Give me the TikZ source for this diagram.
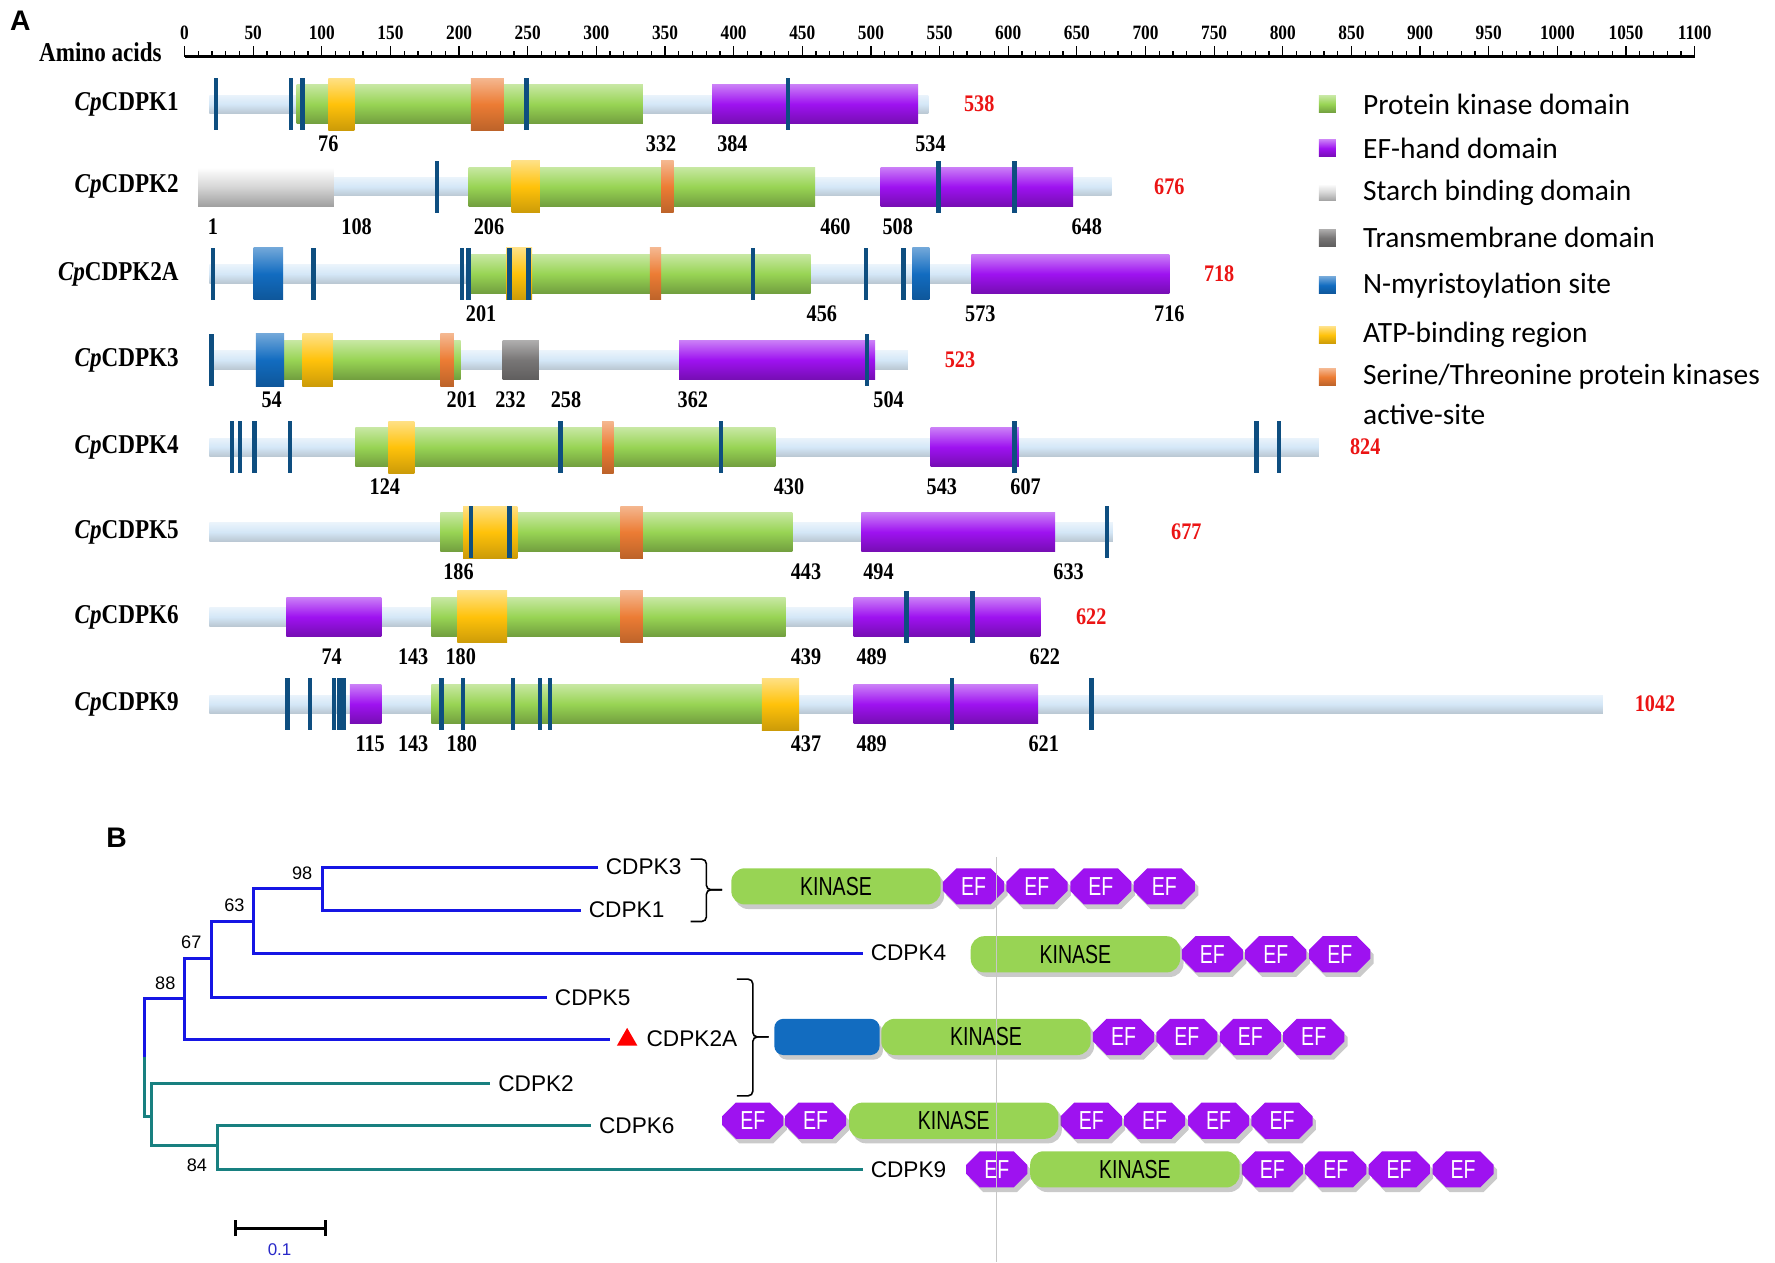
\documentclass[tikz,border=0pt]{standalone}
\usepackage{fontspec}
\setmainfont{Liberation Serif}
\setsansfont{Liberation Sans}
\newfontfamily\legfont{Carlito}
\newfontfamily\condserif[FakeStretch=0.85]{Liberation Serif}
\newfontfamily\condsans[FakeStretch=0.75]{Liberation Sans}
\usepackage{tikz}
\usetikzlibrary{shapes.geometric}
\usetikzlibrary{shapes.misc}
\usetikzlibrary{shadows}
\usetikzlibrary{arrows.meta}

\definecolor{bbblue}{RGB}{212,231,247}
\definecolor{kgreen}{RGB}{152,212,84}
\definecolor{efpurple}{RGB}{158,18,240}
\definecolor{sgrey}{RGB}{214,214,214}
\definecolor{tmgrey}{RGB}{120,118,118}
\definecolor{myrblue}{RGB}{14,78,128}
\definecolor{nblue}{RGB}{18,108,192}
\definecolor{atpyellow}{RGB}{255,194,10}
\definecolor{storange}{RGB}{236,124,52}
\definecolor{treeblue}{RGB}{22,22,228}
\definecolor{treeteal}{RGB}{24,128,128}
\definecolor{lenred}{RGB}{235,20,20}
\definecolor{scaleblue}{RGB}{40,40,200}

\begin{document}
\begin{tikzpicture}[x=1pt,y=-1pt,
 bbone/.style={top color=bbblue!50!white,bottom color=bbblue!70!gray,middle color=bbblue},
 kin/.style={top color=kgreen!55!white,bottom color=kgreen!75!black,middle color=kgreen},
 efd/.style={top color=efpurple!55!white,bottom color=efpurple!75!black,middle color=efpurple},
 sbd/.style={top color=white,bottom color=sgrey!75!black,middle color=sgrey},
 tmd/.style={top color=tmgrey!60!white,bottom color=tmgrey!80!black,middle color=tmgrey},
 nbox/.style={top color=nblue!60!white,bottom color=nblue!80!black,middle color=nblue},
 atp/.style={top color=atpyellow!50!white,bottom color=atpyellow!80!black,middle color=atpyellow},
 sto/.style={top color=storange!55!white,bottom color=storange!80!black,middle color=storange},
 myr/.style={fill=myrblue},
 panel/.style={font=\sffamily\bfseries\fontsize{25}{25}\selectfont,inner sep=0pt},
 ticklab/.style={font=\condserif\bfseries\fontsize{18}{18}\selectfont,inner sep=0pt},
 rowlab/.style={anchor=east,font=\condserif\bfseries\fontsize{24}{24}\selectfont,inner sep=0pt},
 poslab/.style={font=\condserif\bfseries\fontsize{21}{21}\selectfont,inner sep=0pt},
 lenlab/.style={font=\condserif\bfseries\fontsize{21}{21}\selectfont,text=lenred,inner sep=0pt},
 legtxt/.style={anchor=west,font=\legfont\fontsize{26}{26}\selectfont,inner sep=0pt},
 leaf/.style={anchor=west,inner xsep=7pt,inner ysep=0pt,font=\sffamily\fontsize{20}{20}\selectfont},
 boot/.style={font=\sffamily\fontsize{16}{16}\selectfont,inner sep=0pt},
 tb/.style={draw=treeblue,line width=2.6pt},
 tt/.style={draw=treeteal,line width=2.6pt},
 brc/.style={draw=black,line width=1.4pt,rounded corners=4pt},
 dshadow/.style={drop shadow={shadow xshift=3pt,shadow yshift=-4pt,opacity=.35,fill=black!60}},
 kinbox/.style={rectangle,rounded corners=12pt,fill=kgreen,minimum width=185pt,minimum height=32pt,inner sep=0pt,
   font=\condsans\fontsize{23}{23}\selectfont,dshadow},
 efbox/.style={chamfered rectangle,chamfered rectangle sep=6pt,fill=efpurple,text=white,minimum width=54pt,
   minimum height=32pt,inner sep=0pt,font=\condsans\fontsize{23}{23}\selectfont,dshadow},
 nbbox/.style={rectangle,rounded corners=8pt,fill=nblue,minimum width=93pt,minimum height=32pt,dshadow},
 tri/.style={regular polygon,regular polygon sides=3,fill=red,minimum size=21pt,inner sep=0pt}]
\useasboundingbox (0,0) rectangle (1568,1115);

% ---------- A ----------
\node[panel] (pa) at (18,18) {A};
\node[rowlab] (aminoacids) at (143,46) {Amino acids};
\draw[line width=2pt] (163,50) -- (1497,50);
\foreach \i in {0,...,110}
  \draw[line width=1.1pt] ({163+\i*12.127},50) -- ++(0,-5);
\foreach \i in {0,...,22}{
  \pgfmathtruncatemacro\v{\i*50}
  \draw[line width=1.1pt] ({163+\i*60.636},50) -- ++(0,-9);
  \node[ticklab] (t\v) at ({163+\i*60.636},29) {\v};
}

\foreach \y/\n in {92/1,165/2,242/2A,318/3,395/4,470/5,545/6,622/9}
  \node[rowlab] (row\n) at (158,\y) {\textit{Cp}CDPK\n};
\foreach \y/\l/\x in {92/538/865,165/676/1033,242/718/1077,318/523/848,395/824/1206,470/677/1048,545/622/964,622/1042/1462}
  \node[lenlab] (len\l) at (\x,\y) {\l};

% backbones
\foreach \y/\a/\b in {92/185/820,165/295/982,242/185/1033,318/185/802,395/185/1165,470/185/983,545/185/919,622/185/1416}
  \shade[bbone] (\a,\y-8) rectangle (\b,\y+8);
% domains
\foreach \y/\a/\b in {92/262/568,165/414/720,242/416/716,318/251/407,395/314/685,470/389/700,545/381/694,622/381/680}
  \shade[kin] (\a,\y-17) rectangle (\b,\y+17);
\foreach \y/\a/\b in {92/629/811,165/778/948,242/858/1033,318/600/773,395/822/900,470/761/932,545/253/337,545/754/919,622/309/337,622/754/917}
  \shade[efd] (\a,\y-17) rectangle (\b,\y+17);
\shade[sbd] (175,148) rectangle (295,182);
\shade[tmd] (444,301) rectangle (476,335);
% sites
\foreach \y/\a/\b in {242/224/250,242/806/821,318/226/251}
  \shade[nbox] (\a,\y-23) rectangle (\b,\y+23);
\foreach \y/\a/\b in {92/290/313,165/452/477,242/447/470,318/267/294,395/343/366,470/409/457,545/404/448,622/673/706}
  \shade[atp] (\a,\y-23) rectangle (\b,\y+23);
\foreach \y/\a/\b in {92/416/445,165/584/595,242/574/584,318/389/401,395/532/542,470/548/568,545/548/568}
  \shade[sto] (\a,\y-23) rectangle (\b,\y+23);
\foreach \y/\xs in {92/{191,257,267,465,696},165/{386,829,896},242/{188,277,408,414,450,467,665,765,798},
  318/{187,766},395/{205,212,225,256,495,637,896,1110,1130},470/{416,450,978},545/{801,859},
  622/{254,274,295,300,304,390,409,453,477,486,841,964}}
  \foreach \x in \xs \fill[myr] (\x-2,\y-23) rectangle (\x+2,\y+23);

% positions
\foreach \y/\x/\l in {92/290/76,92/584/332,92/647/384,92/822/534,
  165/188/1,165/315/108,165/432/206,165/738/460,165/793/508,165/960/648,
  242/425/201,242/726/456,242/866/573,242/1033/716,
  318/240/54,318/408/201,318/451/232,318/500/258,318/612/362,318/785/504,
  395/340/124,395/697/430,395/832/543,395/906/607,
  470/405/186,470/712/443,470/776/494,470/944/633,
  545/293/74,545/365/143,545/407/180,545/712/439,545/770/489,545/923/622,
  622/327/115,622/365/143,622/408/180,622/712/437,622/770/489,622/922/621}
  \node[poslab] (p\y-\x) at (\x,\y+35) {\l};

% legend
\foreach \i/\y/\s/\t in {1/92/kin/Protein kinase domain,2/131/efd/EF-hand domain,3/170/sbd/Starch binding domain,
  4/210/tmd/Transmembrane domain,5/252/nbox/N-myristoylation site,6/296/atp/ATP-binding region,
  7/333/sto/{Serine/Threonine protein kinases}}{
  \shade[\s] (1165,\y-7.5) rectangle (1180,\y+7.5);
  \node[legtxt] (leg\i) at (1204,\y) {\t};
}
\node[legtxt] (leg7b) at (1204,366) {active-site};

% ---------- B ----------
\node[panel] (pb) at (103,740) {B};

\coordinate (root) at (128,934);
\coordinate (n88) at (163,882);
\coordinate (n67) at (187,847);
\coordinate (n63) at (224,814);
\coordinate (n98) at (285,785);
\coordinate (nT) at (134,986);
\coordinate (n84) at (192,1012);
\coordinate (e2a) at (539,918);

\node[leaf] (c3) at (528,766) {CDPK3};
\node[leaf] (c1) at (513,804) {CDPK1};
\node[leaf] (c4) at (762,842) {CDPK4};
\node[leaf] (c5) at (483,881) {CDPK5};
\node[tri] (tr) at (554,918.5) {};
\node[leaf] (c2a) at (564,918) {CDPK2A};
\node[leaf] (c2) at (433,957) {CDPK2};
\node[leaf] (c6) at (522,994) {CDPK6};
\node[leaf] (c9) at (762,1033) {CDPK9};

\foreach \a/\b in {root/n88,n88/n67,n88/e2a,n67/n63,n67/c5.west,n63/n98,n63/c4.west,n98/c3.west,n98/c1.west}
  \draw[tb] (\a) |- (\b);
\foreach \a/\b in {root/nT,nT/c2.west,nT/n84,n84/c6.west,n84/c9.west}
  \draw[tt] (\a) |- (\b);

\node[boot] (bs98) at (267,771) {98};
\node[boot] (bs63) at (207,800) {63};
\node[boot] (bs67) at (169,832) {67};
\node[boot] (bs88) at (146,869) {88};
\node[boot] (bs84) at (174,1029) {84};

\coordinate (sb0) at (207,1085);
\coordinate (sb1) at (289,1085);
\draw[line width=2.4pt,{Bar[width=14pt]}-{Bar[width=14pt]}] (sb0) -- (sb1);
\node[boot,font=\sffamily\fontsize{15}{15}\selectfont,text=scaleblue] (sbl) at (247,1104) {0.1};

% braces
\draw[brc] (610,759) -| (624,786) -- (638,786);
\draw[brc] (610,814) -| (624,786) -- (638,786);
\draw[brc] (651,865) -| (665,916) -- (679,916);
\draw[brc] (651,968) -| (665,916) -- (679,916);

% domain cartoons
\node[kinbox] (kin1) at (738.5,783) {KINASE};
\foreach \i/\x in {1/860,2/916,3/972.5,4/1028.5}
  \node[efbox] (ef1-\i) at (\x,783) {EF};
\node[kinbox] (kin4) at (950,843) {KINASE};
\foreach \i/\x in {1/1071,2/1127,3/1183.5}
  \node[efbox] (ef4-\i) at (\x,843) {EF};
\node[nbbox] (nb2a) at (730.5,916) {};
\node[kinbox] (kin2a) at (871,916) {KINASE};
\foreach \i/\x in {1/992.5,2/1048.5,3/1104.5,4/1160.5}
  \node[efbox] (ef2a-\i) at (\x,916) {EF};
\foreach \i/\x in {1/665,2/720.5,3/964,4/1020,5/1076.5,6/1132.5}
  \node[efbox] (ef6-\i) at (\x,990) {EF};
\node[kinbox] (kin6) at (842.5,990) {KINASE};
\foreach \i/\x in {1/880.5,2/1124,3/1180,4/1236,5/1292.5}
  \node[efbox] (ef9-\i) at (\x,1033) {EF};
\node[kinbox] (kin9) at (1002.5,1033) {KINASE};

\draw[black!22,line width=.8pt] (880,757) -- (880,1115);
\end{tikzpicture}
\end{document}
